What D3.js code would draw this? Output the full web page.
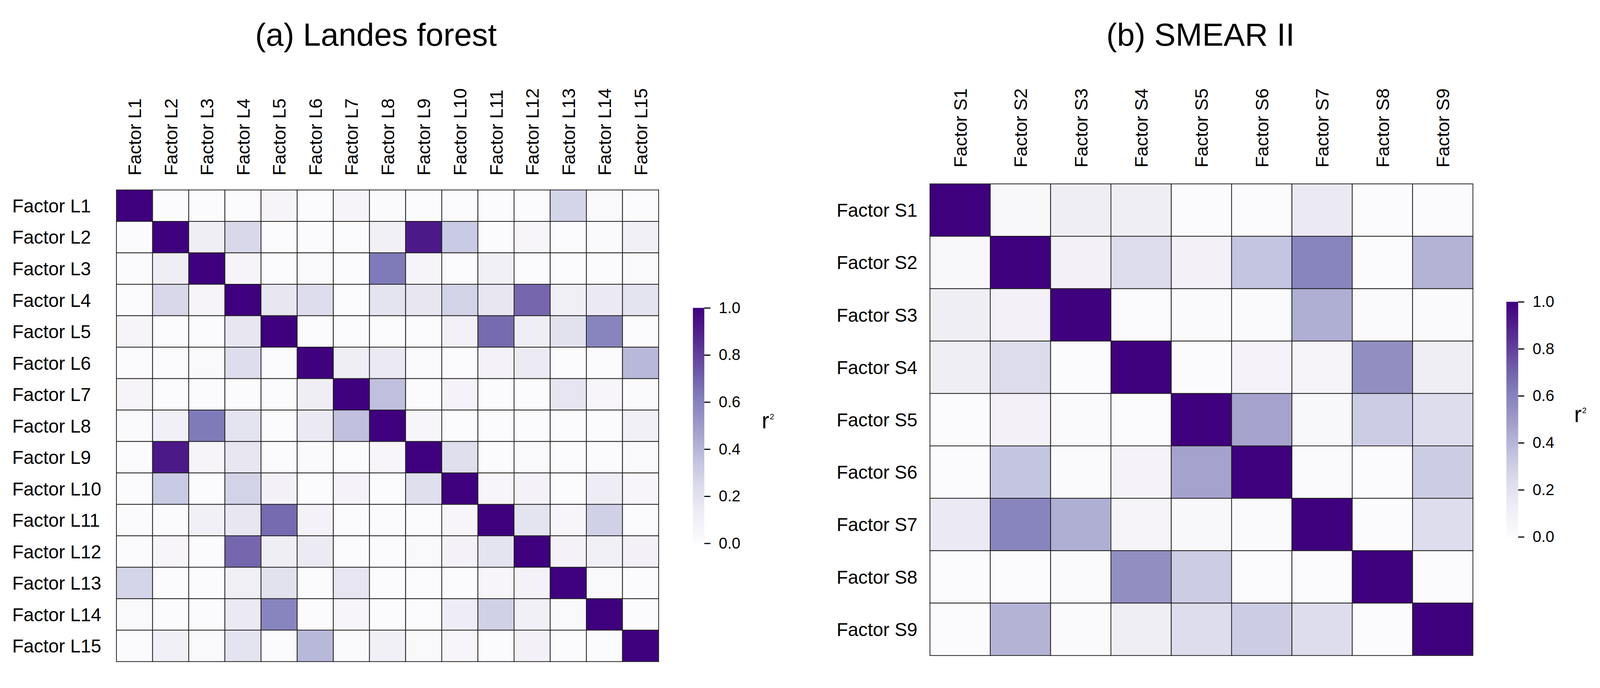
<!DOCTYPE html>
<html>
<head>
<meta charset="utf-8">
<script src="https://cdn.jsdelivr.net/npm/d3@7"></script>
<style>
  html, body { margin: 0; padding: 0; background: #ffffff; overflow: hidden; width: 100vw; height: 100vh; }
  svg { display: block; width: 100vw; height: 100vh; }
  text { font-family: "Liberation Sans", Arial, Helvetica, sans-serif; fill: #000; }
</style>
</head>
<body>
<svg id="chart" viewBox="0 0 4205 1762" preserveAspectRatio="xMidYMid meet"></svg>
<script>
// ---------------- DATA ----------------
const landesFactors = ["Factor L1","Factor L2","Factor L3","Factor L4","Factor L5","Factor L6","Factor L7","Factor L8","Factor L9","Factor L10","Factor L11","Factor L12","Factor L13","Factor L14","Factor L15"];
const landesR2 = [
  [1.00,0.01,0.01,0.01,0.06,0.01,0.06,0.02,0.01,0.01,0.01,0.01,0.27,0.03,0.01],
  [0.01,1.00,0.12,0.26,0.01,0.01,0.01,0.10,0.92,0.32,0.01,0.05,0.01,0.02,0.10],
  [0.01,0.12,1.00,0.06,0.01,0.03,0.01,0.63,0.06,0.01,0.10,0.01,0.01,0.01,0.03],
  [0.01,0.26,0.06,1.00,0.17,0.23,0.01,0.19,0.17,0.28,0.17,0.69,0.11,0.15,0.19],
  [0.06,0.01,0.01,0.17,1.00,0.01,0.01,0.01,0.01,0.09,0.68,0.12,0.20,0.59,0.01],
  [0.01,0.01,0.03,0.23,0.01,1.00,0.12,0.15,0.02,0.01,0.08,0.14,0.01,0.01,0.39],
  [0.06,0.01,0.01,0.01,0.01,0.12,1.00,0.36,0.01,0.07,0.01,0.01,0.18,0.05,0.02],
  [0.02,0.10,0.63,0.19,0.01,0.15,0.36,1.00,0.05,0.01,0.01,0.01,0.01,0.01,0.10],
  [0.01,0.92,0.06,0.17,0.01,0.02,0.01,0.05,1.00,0.22,0.01,0.03,0.01,0.01,0.03],
  [0.01,0.32,0.01,0.28,0.09,0.01,0.07,0.01,0.22,1.00,0.05,0.08,0.01,0.13,0.05],
  [0.01,0.01,0.10,0.17,0.68,0.08,0.01,0.01,0.01,0.05,1.00,0.19,0.05,0.29,0.01],
  [0.01,0.05,0.01,0.69,0.12,0.14,0.01,0.01,0.03,0.08,0.19,1.00,0.08,0.10,0.09],
  [0.27,0.01,0.01,0.11,0.20,0.01,0.18,0.01,0.01,0.01,0.05,0.08,1.00,0.03,0.01],
  [0.03,0.01,0.01,0.15,0.59,0.01,0.05,0.01,0.01,0.13,0.29,0.10,0.03,1.00,0.01],
  [0.01,0.10,0.03,0.19,0.01,0.39,0.02,0.10,0.03,0.05,0.01,0.09,0.01,0.01,1.00]
];

const smearFactors = ["Factor S1","Factor S2","Factor S3","Factor S4","Factor S5","Factor S6","Factor S7","Factor S8","Factor S9"];
const smearR2 = [
  [1.00,0.04,0.12,0.12,0.01,0.01,0.15,0.01,0.01],
  [0.04,1.00,0.09,0.24,0.09,0.34,0.59,0.01,0.41],
  [0.12,0.09,1.00,0.01,0.02,0.02,0.43,0.02,0.02],
  [0.12,0.24,0.01,1.00,0.01,0.07,0.06,0.55,0.12],
  [0.01,0.09,0.02,0.01,1.00,0.47,0.04,0.31,0.23],
  [0.01,0.34,0.02,0.07,0.47,1.00,0.02,0.01,0.31],
  [0.15,0.59,0.43,0.06,0.04,0.02,1.00,0.01,0.23],
  [0.01,0.01,0.02,0.55,0.31,0.01,0.01,1.00,0.01],
  [0.01,0.41,0.02,0.12,0.23,0.31,0.23,0.01,1.00]
];

const panelTitles = ["(a) Landes forest", "(b) SMEAR II"];
const colorbarTicks = [0.0, 0.2, 0.4, 0.6, 0.8, 1.0];
const colorbarLabel = "r";
const colorbarLabelSup = "2";

// Matplotlib "Purples" colormap anchors
const purples = ["#fcfbfd","#efedf5","#dadaeb","#bcbddc","#9e9ac8","#807dba","#6a51a3","#54278f","#3f007d"];

// ---------------- DRAW ----------------
const svg = d3.select("#chart");
svg.append("rect").attr("width", 4205).attr("height", 1762).attr("fill", "#ffffff");

const color = d3.scaleLinear()
  .domain(purples.map((_, i) => i / (purples.length - 1)))
  .range(purples)
  .interpolate(d3.interpolateRgb)
  .clamp(true);

const defs = svg.append("defs");
const grad = defs.append("linearGradient")
  .attr("id", "purplesGrad")
  .attr("x1", "0").attr("y1", "1").attr("x2", "0").attr("y2", "0");
d3.range(0, 1.0001, 0.025).forEach(t => {
  grad.append("stop").attr("offset", t).attr("stop-color", color(t));
});

const panels = [
  {
    title: panelTitles[0], labels: landesFactors, data: landesR2,
    x0: 306, x1: 1731, y0: 476, y1: 1716,
    titleX: 988, titleY: 97,
    colLabelY: 438,
    rowLabelX: 32, rowAnchor: "start",
    cb: { x: 1821, w: 30, y0: 786, y1: 1405, labelX: 2002 }
  },
  {
    title: panelTitles[1], labels: smearFactors, data: smearR2,
    x0: 2444, x1: 3871, y0: 460, y1: 1700,
    titleX: 3155, titleY: 97,
    colLabelY: 417,
    rowLabelX: 2411, rowAnchor: "end",
    cb: { x: 3959, w: 31, y0: 770, y1: 1388, labelX: 4137 }
  }
];

panels.forEach(p => {
  const g = svg.append("g");

  // title
  g.append("text")
    .attr("x", p.titleX).attr("y", p.titleY)
    .attr("text-anchor", "middle")
    .style("font-size", "84px")
    .text(p.title);

  const x = d3.scaleBand().domain(p.labels).range([p.x0, p.x1]);
  const y = d3.scaleBand().domain(p.labels).range([p.y0, p.y1]);

  const cells = [];
  p.data.forEach((row, i) => row.forEach((v, j) => cells.push({ r: p.labels[i], c: p.labels[j], v })));

  g.append("g").selectAll("rect")
    .data(cells)
    .join("rect")
    .attr("x", d => x(d.c))
    .attr("y", d => y(d.r))
    .attr("width", x.bandwidth())
    .attr("height", y.bandwidth())
    .attr("fill", d => color(d.v))
    .attr("stroke", "#1e1e1e")
    .attr("stroke-width", 2);

  // column labels (top axis, rotated)
  const xAxis = g.append("g")
    .attr("transform", `translate(0,${p.colLabelY})`)
    .call(d3.axisTop(x).tickSize(0).tickPadding(0));
  xAxis.select(".domain").remove();
  xAxis.selectAll(".tick line").remove();
  xAxis.selectAll(".tick text")
    .attr("transform", "rotate(-90)")
    .attr("x", 0).attr("y", 0)
    .attr("dy", "0.36em")
    .attr("text-anchor", "start")
    .style("font-size", "48px")
    .style("font-family", '"Liberation Sans", Arial, sans-serif')
    .attr("fill", "#000");

  // row labels (left axis)
  const yAxis = g.append("g")
    .attr("transform", `translate(${p.rowLabelX},0)`)
    .call(d3.axisLeft(y).tickSize(0).tickPadding(0));
  yAxis.select(".domain").remove();
  yAxis.selectAll(".tick line").remove();
  yAxis.selectAll(".tick text")
    .attr("x", 0)
    .attr("dy", "0.36em")
    .attr("text-anchor", p.rowAnchor)
    .style("font-size", "49px")
    .style("font-family", '"Liberation Sans", Arial, sans-serif')
    .attr("fill", "#000");

  // colorbar
  const cb = p.cb;
  g.append("rect")
    .attr("x", cb.x).attr("y", cb.y0)
    .attr("width", cb.w).attr("height", cb.y1 - cb.y0)
    .attr("fill", "url(#purplesGrad)");

  const cbScale = d3.scaleLinear().domain([0, 1]).range([cb.y1, cb.y0]);
  const cbAxis = g.append("g")
    .attr("transform", `translate(${cb.x + cb.w},0)`)
    .call(d3.axisRight(cbScale).tickValues(colorbarTicks).tickFormat(d3.format(".1f")).tickSize(16).tickPadding(22));
  cbAxis.select(".domain").remove();
  cbAxis.selectAll(".tick line").attr("stroke", "#000").attr("stroke-width", 3);
  cbAxis.selectAll(".tick text")
    .style("font-size", "41px")
    .style("font-family", '"Liberation Sans", Arial, sans-serif')
    .attr("fill", "#000");

  const lab = g.append("text")
    .attr("x", cb.labelX)
    .attr("y", (cb.y0 + cb.y1) / 2 + 7)
    .style("font-size", "60px");
  lab.append("tspan").text(colorbarLabel);
  lab.append("tspan").attr("dy", "-23").attr("dx", "1").style("font-size", "21px").text(colorbarLabelSup);
});
</script>
</body>
</html>
